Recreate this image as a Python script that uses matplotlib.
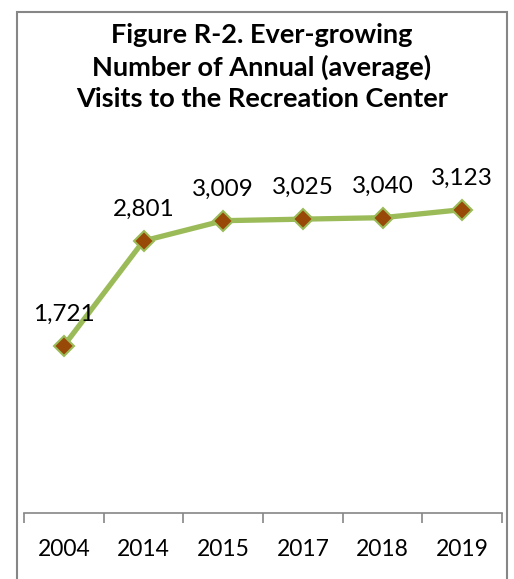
import matplotlib
matplotlib.use("Agg")
import matplotlib.pyplot as plt
from matplotlib.patches import Rectangle

years = ["2004", "2014", "2015", "2017", "2018", "2019"]
visits = [1721, 2801, 3009, 3025, 3040, 3123]
title = "Figure R-2. Ever-growing\nNumber of Annual (average)\nVisits to the Recreation Center"

plt.rcParams['font.family'] = ['Lato', 'DejaVu Sans']

W, H = 514, 579
fig = plt.figure(figsize=(W/100, H/100), dpi=100)
ax = fig.add_axes([24/W, (H-513)/H, (502-24)/W, (513-173)/H])

x = list(range(len(years)))
ax.plot(x, visits, color="#9BBB59", lw=3.8, marker="D", markersize=10.5,
        markerfacecolor="#984807", markeredgecolor="#9BBB59", markeredgewidth=1.5,
        solid_capstyle="round", zorder=3, clip_on=False)
for xi, v in zip(x, visits):
    ax.annotate(f"{v:,}", (xi, v), xytext=(0, 15), textcoords="offset points",
                ha="center", va="bottom", fontsize=17.5, color="black")

ax.set_xlim(-0.5, len(years) - 0.5)
ax.set_ylim(0, 3500)
ax.set_yticks([])
ax.set_xticks([i - 0.5 for i in range(len(years) + 1)])
ax.set_xticklabels([])
ax.set_xticks(x, minor=True)
ax.set_xticklabels(years, minor=True, fontsize=16.5)
ax.tick_params(axis="x", which="major", direction="out", length=7, width=1.2, color="#868686")
ax.tick_params(axis="x", which="minor", length=0, pad=19)
for s in ["top", "left", "right"]:
    ax.spines[s].set_visible(False)
ax.spines["bottom"].set_color("#868686")
ax.spines["bottom"].set_linewidth(1.2)

fig.text(262/W, 1 - 67/H, title, ha="center", va="center", fontsize=19.5,
         fontweight="bold", linespacing=1.36)

border = Rectangle((17/W, -0.05), (507-17)/W, 1.05 - 12/H, transform=fig.transFigure,
                   fill=False, edgecolor="#868686", lw=1.5, clip_on=False)
fig.patches.append(border)

fig.savefig("out.png", dpi=100)
